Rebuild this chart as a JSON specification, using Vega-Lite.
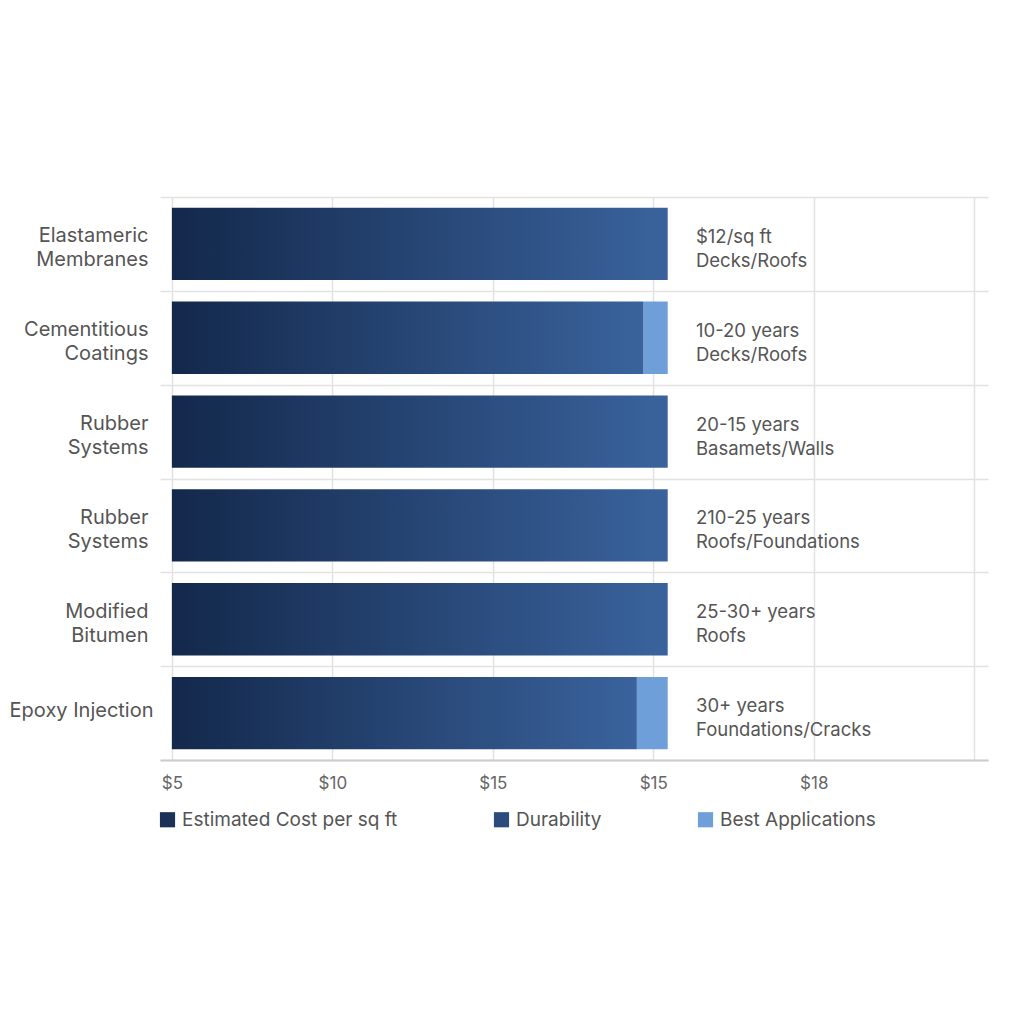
{
  "$schema": "https://vega.github.io/schema/vega-lite/v6.json",
  "autosize": {"type": "none"},
  "padding": {"left": 160, "top": 197, "right": 36, "bottom": 264},
  "width": 828,
  "height": 563,
  "background": "white",
  "data": {
    "values": [
      {"material": "Elastameric|Membranes", "main": 20.45, "total": 20.45, "note": "$12/sq ft\nDecks/Roofs"},
      {"material": "Cementitious|Coatings", "main": 19.7, "total": 20.45, "note": "10-20 years\nDecks/Roofs"},
      {"material": "Rubber|Systems", "main": 20.45, "total": 20.45, "note": "20-15 years\nBasamets/Walls"},
      {"material": "Rubber|Systems\u200b", "main": 20.45, "total": 20.45, "note": "210-25 years\nRoofs/Foundations"},
      {"material": "Modified|Bitumen", "main": 20.45, "total": 20.45, "note": "25-30+ years\nRoofs"},
      {"material": "Epoxy Injection", "main": 19.49, "total": 20.45, "note": "30+ years\nFoundations/Cracks"}
    ]
  },
  "encoding": {
    "y": {
      "field": "material",
      "type": "nominal",
      "sort": null,
      "title": null,
      "scale": {"paddingInner": 0, "paddingOuter": 0},
      "axis": {
        "domain": false,
        "ticks": false,
        "grid": true,
        "tickBand": "extent",
        "gridColor": "#e2e2e2",
        "gridWidth": 1.5,
        "labelExpr": "split(datum.label, '|')",
        "labelFont": "Inter",
        "labelFontSize": 20,
        "labelColor": "#555555",
        "labelLineHeight": 24,
        "labelOffset": {"condition": {"test": "datum.value == 'Epoxy Injection'", "value": -3}, "value": -8},
        "labelPadding": {"condition": {"test": "datum.value == 'Epoxy Injection'", "value": 7}, "value": 12},
        "labelLimit": 200
      }
    }
  },
  "layer": [
    {
      "mark": {
        "type": "bar",
        "height": {"band": 0.77},
        "fill": {
          "gradient": "linear",
          "x1": 0, "y1": 0, "x2": 1, "y2": 0,
          "stops": [
            {"offset": 0, "color": "#13284b"},
            {"offset": 1, "color": "#3a639d"}
          ]
        }
      },
      "encoding": {
        "x": {
          "field": "main",
          "type": "quantitative",
          "title": null,
          "scale": {"domain": [4.63, 30.43], "nice": false, "zero": false},
          "axis": {
            "values": [5, 10, 15, 20, 25, 30],
            "labelExpr": "datum.value == 20 ? '$15' : datum.value == 25 ? '$18' : datum.value == 30 ? '' : '$' + datum.value",
            "grid": true,
            "gridColor": "#e2e2e2",
            "gridWidth": 1.5,
            "ticks": false,
            "domainColor": "#cccccc",
            "domainWidth": 2,
            "labelFont": "Inter",
            "labelFontSize": 17,
            "labelColor": "#666666",
            "labelPadding": 15
          }
        },
        "x2": {"datum": 5}
      }
    },
    {
      "transform": [{"filter": "datum.main < datum.total"}],
      "mark": {"type": "bar", "height": {"band": 0.77}},
      "encoding": {
        "x": {"field": "main", "type": "quantitative"},
        "x2": {"field": "total"},
        "color": {
          "datum": "Best Applications",
          "type": "nominal",
          "scale": {
            "domain": ["Estimated Cost per sq ft", "Durability", "Best Applications"],
            "range": ["#1b3157", "#2c4a7c", "#6f9fd8"]
          },
          "legend": {
            "title": null,
            "orient": "none",
            "legendX": -2,
            "legendY": 613,
            "direction": "horizontal",
            "columns": 3,
            "columnPadding": 94,
            "symbolType": "square",
            "symbolSize": 230,
            "symbolStrokeWidth": 0,
            "labelFont": "Inter",
            "labelFontSize": 19,
            "labelColor": "#555555",
            "labelOffset": 5,
            "labelLimit": 300
          }
        }
      }
    },
    {
      "mark": {
        "type": "text",
        "align": "left",
        "baseline": "middle",
        "lineBreak": "\n",
        "lineHeight": 24,
        "dy": -7,
        "font": "Inter",
        "fontSize": 18.5,
        "color": "#555555"
      },
      "encoding": {
        "x": {"datum": 21.33, "type": "quantitative"},
        "text": {"field": "note", "type": "nominal"}
      }
    }
  ],
  "config": {
    "view": {"stroke": null}
  }
}
